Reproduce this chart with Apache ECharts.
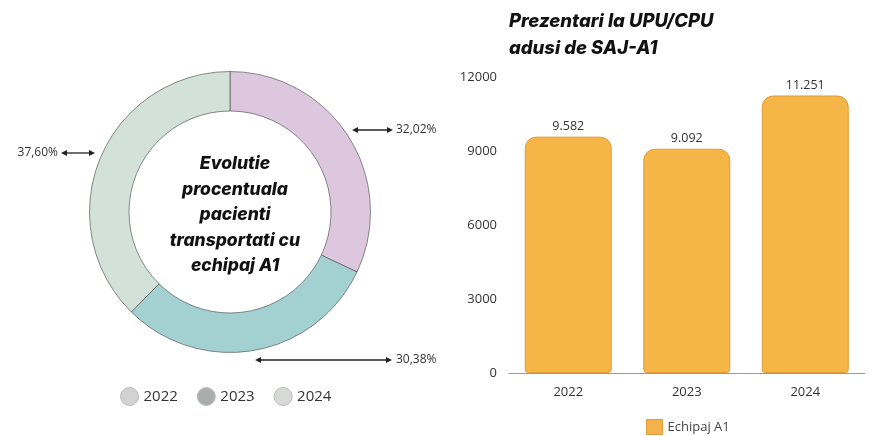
<!DOCTYPE html>
<html>
<head>
<meta charset="utf-8">
<script src="https://cdn.jsdelivr.net/npm/echarts@6/dist/echarts.min.js"></script>
<style>
html,body{margin:0;padding:0;background:#fff;}
#chart{width:875px;height:436px;}
</style>
</head>
<body>
<div id="chart"></div>
<script>
// Donut data
var pieYears = ['2022', '2023', '2024'];
var piePercents = [32.02, 30.38, 37.60];
var pieColors = ['#dcc7df', '#a3d1d2', '#d3e2d8'];
var pieLegendColors = ['#d2d2d2', '#a9aeac', '#d6d9d6'];
var pieCenterText = 'Evolutie\nprocentuala\npacienti\ntransportati cu\nechipaj A1';

// Bar data
var barCategories = ['2022', '2023', '2024'];
var barValues = [9582, 9092, 11251];
var barSeriesName = 'Echipaj A1';
var barTitle = 'Prezentari la UPU/CPU\nadusi de SAJ-A1';
var yTicks = [0, 3000, 6000, 9000, 12000];

var FONT = '"Open Sans", "Noto Sans", "DejaVu Sans", sans-serif';
var TITLE_FONT = 'Inter, "Noto Sans", sans-serif';

function fmtPct(v) { return v.toFixed(2).replace('.', ',') + '%'; }
function fmtThousands(v) { return String(v).replace(/\B(?=(\d{3})+(?!\d))/g, '.'); }

var chart = echarts.init(document.getElementById('chart'), null, {renderer: 'canvas'});

// Label positions for the percentage annotations
var labelPos = [
  {x: 396, y: 130, align: 'left'},
  {x: 396, y: 360, align: 'left'},
  {x: 58, y: 153, align: 'right'}
];

function arrow(x1, x2, y) {
  var c = '#222';
  return [
    {type: 'line', shape: {x1: x1 + 3, y1: y, x2: x2 - 3, y2: y}, style: {stroke: c, lineWidth: 1.3}},
    {type: 'polygon', shape: {points: [[x1, y], [x1 + 6, y - 3], [x1 + 6, y + 3]]}, style: {fill: c}},
    {type: 'polygon', shape: {points: [[x2, y], [x2 - 6, y - 3], [x2 - 6, y + 3]]}, style: {fill: c}}
  ];
}

var graphics = [].concat(arrow(352, 393, 130), arrow(255, 392, 360), arrow(61, 95, 153));

var option = {
  backgroundColor: '#ffffff',
  animation: false,
  title: [
    {
      text: barTitle,
      left: 504, top: 3,
      textStyle: {fontFamily: TITLE_FONT, fontSize: 18.5, fontWeight: 800, fontStyle: 'italic', color: '#111', lineHeight: 27}
    },
    {
      text: pieCenterText,
      left: 230, top: 146, textAlign: 'center',
      textStyle: {fontFamily: TITLE_FONT, fontSize: 17.5, fontWeight: 800, fontStyle: 'italic', color: '#111', lineHeight: 25.5, align: 'center'}
    }
  ],
  legend: [
    {
      data: pieYears.map(function (y, i) { return {name: y, itemStyle: {color: pieLegendColors[i], borderColor: '#bbb', borderWidth: 1}}; }),
      left: 115, top: 382,
      icon: 'circle', itemWidth: 18, itemHeight: 18, itemGap: 19,
      textStyle: {fontFamily: FONT, fontSize: 15, color: '#333'}
    },
    {
      data: [barSeriesName],
      left: 641, top: 414,
      icon: 'rect', itemWidth: 16, itemHeight: 15, itemGap: 8,
      itemStyle: {color: '#f3b24a', borderColor: '#e29d36', borderWidth: 1},
      textStyle: {fontFamily: FONT, fontSize: 13, color: '#444'}
    }
  ],
  grid: {left: 509, right: 10.5, top: 77, bottom: 63, containLabel: false},
  xAxis: {
    type: 'category',
    data: barCategories,
    axisLine: {show: true, lineStyle: {color: '#9a9a9a', width: 1}},
    axisTick: {show: false},
    axisLabel: {fontFamily: FONT, fontSize: 13, color: '#333', margin: 13}
  },
  yAxis: {
    type: 'value',
    min: 0, max: 12000, interval: 3000,
    axisLine: {show: false},
    axisTick: {show: false},
    splitLine: {show: false},
    axisLabel: {fontFamily: FONT, fontSize: 13, color: '#333', margin: 12, formatter: function (v) { return String(v); }}
  },
  graphic: graphics,
  series: [
    {
      type: 'pie',
      name: 'Evolutie',
      center: [230, 212],
      radius: [101, 140.5],
      startAngle: 90,
      clockwise: true,
      avoidLabelOverlap: false,
      itemStyle: {borderColor: 'rgba(80,80,80,0.65)', borderWidth: 1},
      label: {
        show: true,
        position: 'outside',
        fontFamily: FONT, fontSize: 12, color: '#333',
        formatter: function (p) { return fmtPct(p.value); }
      },
      labelLine: {show: false},
      labelLayout: function (p) {
        var lp = labelPos[p.dataIndex];
        return {x: lp.x, y: lp.y, align: lp.align, verticalAlign: 'middle'};
      },
      emphasis: {disabled: true},
      data: pieYears.map(function (y, i) { return {name: y, value: piePercents[i], itemStyle: {color: pieColors[i]}}; })
    },
    {
      type: 'bar',
      name: barSeriesName,
      data: barValues,
      barWidth: 87,
      itemStyle: {color: '#f5b547', borderColor: '#e29d36', borderWidth: 1, borderRadius: [11, 11, 3, 3]},
      label: {
        show: true, position: 'top', distance: 4,
        fontFamily: FONT, fontSize: 12.5, color: '#333',
        formatter: function (p) { return fmtThousands(p.value); }
      },
      emphasis: {disabled: true}
    }
  ]
};
chart.setOption(option);
</script>
</body>
</html>
